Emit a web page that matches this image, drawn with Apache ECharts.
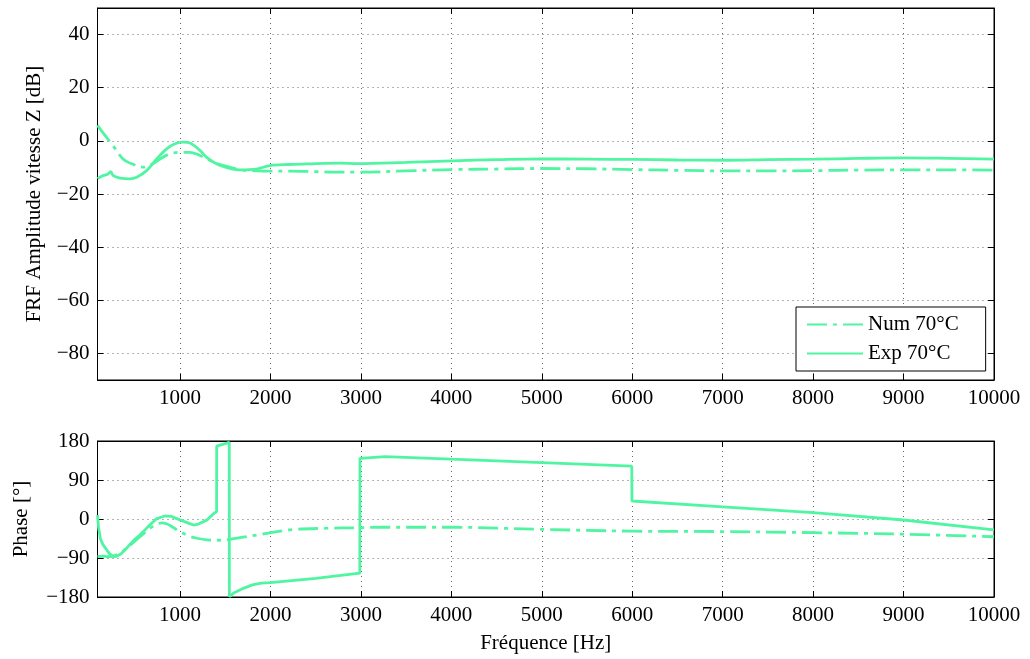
<!DOCTYPE html>
<html>
<head>
<meta charset="utf-8">
<script src="https://cdn.jsdelivr.net/npm/echarts@6/dist/echarts.min.js"></script>
<style>
html,body{margin:0;padding:0;background:#fff;}
#chart{width:1030px;height:659px;}
</style>
</head>
<body>
<div id="chart"></div>
<script>
// ---- Data ----
var seriesNames = ['Num 70°C', 'Exp 70°C'];

// Amplitude (dB) - numerical
var freqAmpNum = [88, 150, 260, 370, 480, 595, 700, 780, 880, 1000, 1110, 1200, 1295, 1420, 1552, 1663, 1847, 2000, 2215, 2500, 2767, 2970, 3500, 4013, 4500, 5000, 5500, 6000, 6500, 7040, 7500, 8030, 8500, 9000, 9500, 10000];
var ampNum     = [5.8, 3.0, -1.8, -6.8, -8.8, -9.9, -8.6, -6.8, -5.0, -4.3, -4.3, -5.2, -6.8, -8.6, -9.9, -10.9, -11.3, -11.4, -11.4, -11.6, -11.8, -11.8, -11.3, -10.8, -10.6, -10.4, -10.5, -10.8, -11.1, -11.3, -11.3, -11.2, -11.0, -10.9, -10.9, -11.0];

// Amplitude (dB) - experimental
var freqAmpExp = [88, 150, 200, 234, 263, 337, 447, 521, 631, 742, 853, 945, 1037, 1110, 1221, 1295, 1387, 1479, 1570, 1663, 1847, 1994, 2200, 2400, 2767, 2970, 3500, 4013, 4500, 5000, 5500, 6000, 6500, 7040, 7500, 8030, 8500, 9000, 9500, 10000];
var ampExp     = [-14.2, -13.1, -12.6, -11.6, -13.1, -14.0, -14.3, -13.7, -11.2, -6.8, -3.0, -1.1, -0.5, -0.8, -3.6, -6.2, -8.3, -9.6, -10.5, -10.9, -10.6, -9.3, -8.9, -8.7, -8.4, -8.6, -8.1, -7.5, -7.1, -6.8, -6.9, -7.0, -7.2, -7.3, -7.1, -6.9, -6.6, -6.4, -6.6, -6.9];

// Phase (deg) - numerical
var freqPhaseNum = [88, 150, 200, 264, 350, 400, 485, 600, 700, 800, 850, 900, 950, 1000, 1110, 1200, 1300, 1450, 1552, 1700, 1847, 1960, 2215, 2580, 3000, 3240, 4000, 5000, 6000, 7000, 8000, 9000, 10000];
var phaseNum     = [-87, -86, -87, -85, -77, -69, -54, -33, -17, -9, -11, -16, -23, -29, -40, -45, -48, -49, -47, -42, -37, -33, -25, -21.5, -20, -19, -19, -24, -28, -29, -31.5, -35, -41];

// Phase (deg) - experimental
var freqPhaseExp = [88, 100, 120, 145, 172, 220, 264, 300, 350, 420, 485, 550, 600, 650, 743, 834, 900, 1000, 1100, 1150, 1200, 1300, 1380, 1405, 1406, 1545, 1546, 1600, 1700, 1800, 1900, 2000, 2500, 2988, 2990, 3270, 4000, 5000, 5995, 5997, 7000, 8000, 9000, 10000];
var phaseExp     = [9, -20, -45, -58, -66, -80, -87, -86, -80, -65, -50, -38, -28, -17, 1, 7, 6, -2, -10, -14, -12, -2, 14, 17, 168, 177, -179, -170, -160, -152, -148, -147, -137, -125, 140, 144, 138, 130, 122, 41.5, 28, 14.6, -2.3, -25];

// Axis ranges
var xMin = 88, xMax = 10000;
var ampMin = -90, ampMax = 50;
var phaseMin = -180, phaseMax = 180, phaseStep = 90;

function pairs(xs, ys){ var o=[]; for(var i=0;i<xs.length;i++) o.push([xs[i], ys[i]]); return o; }

var FONT = 'Liberation Serif';
var FS = 21;
var lineColor = '#50f5a2';
var gridLine = {show:true, lineStyle:{color:'#666', type:[1,4], width:1}};
function numFmt(v){ return String(Math.round(v)).replace('-', '\u2212'); }

function xAxisMain(gi, showName){
  return {
    type:'value', gridIndex:gi, min:xMin, max:xMax, splitNumber:10,
    axisLine:{show:true, onZero:false, lineStyle:{color:'#000', width:1}},
    axisTick:{show:true, inside:true, length:6, lineStyle:{color:'#000'}},
    axisLabel:{show:true, color:'#000', fontFamily:FONT, fontSize:FS, margin:8, showMinLabel:false, formatter:numFmt},
    splitLine:gridLine,
    name: showName ? 'Fréquence [Hz]' : '',
    nameLocation:'middle', nameGap:36,
    nameTextStyle:{color:'#000', fontFamily:FONT, fontSize:FS}
  };
}
function xAxisTop(gi){
  return {
    type:'value', gridIndex:gi, position:'top', min:xMin, max:xMax, splitNumber:10,
    axisLine:{show:true, onZero:false, lineStyle:{color:'#000', width:1}},
    axisTick:{show:true, inside:true, length:6, lineStyle:{color:'#000'}},
    axisLabel:{show:false}, splitLine:{show:false}
  };
}

var option = {
  animation:false,
  backgroundColor:'#fff',
  textStyle:{fontFamily:FONT},
  grid:[
    {left:97.5, right:36, top:8, height:372, show:true, borderColor:'#000', borderWidth:1, backgroundColor:'transparent'},
    {left:97.5, right:36, top:441, height:156, show:true, borderColor:'#000', borderWidth:1, backgroundColor:'transparent'}
  ],
  legend:{
    data:seriesNames,
    orient:'vertical',
    left:796, top:307,
    padding:[7, 27, 7, 10],
    itemWidth:56, itemHeight:14, itemGap:8, itemTextGap:7,
    borderColor:'#000', borderWidth:1, backgroundColor:'#fff', borderRadius:0,
    itemStyle:{color:'rgba(0,0,0,0)', borderColor:'rgba(0,0,0,0)', borderWidth:0},
    textStyle:{color:'#000', fontFamily:FONT, fontSize:FS}
  },
  xAxis:[ xAxisMain(0,false), xAxisMain(1,true), xAxisTop(0), xAxisTop(1) ],
  yAxis:[
    {type:'value', gridIndex:0, min:ampMin, max:ampMax, splitNumber:7,
     axisLine:{show:true, onZero:false, lineStyle:{color:'#000'}},
     axisTick:{show:true, inside:true, length:6, lineStyle:{color:'#000'}},
     axisLabel:{color:'#000', fontFamily:FONT, fontSize:FS, margin:8, showMinLabel:false, showMaxLabel:false, formatter:numFmt},
     splitLine:gridLine,
     name:'FRF Amplitude vitesse Z [dB]', nameLocation:'middle', nameGap:53, nameRotate:90,
     nameTextStyle:{color:'#000', fontFamily:FONT, fontSize:FS}},
    {type:'value', gridIndex:1, min:phaseMin, max:phaseMax, interval:phaseStep,
     axisLine:{show:true, onZero:false, lineStyle:{color:'#000'}},
     axisTick:{show:true, inside:true, length:6, lineStyle:{color:'#000'}},
     axisLabel:{color:'#000', fontFamily:FONT, fontSize:FS, margin:8, formatter:numFmt},
     splitLine:gridLine,
     name:'Phase [°]', nameLocation:'middle', nameGap:66, nameRotate:90,
     nameTextStyle:{color:'#000', fontFamily:FONT, fontSize:FS}},
    {type:'value', gridIndex:0, position:'right', min:ampMin, max:ampMax, splitNumber:7,
     axisLine:{show:true, onZero:false, lineStyle:{color:'#000'}},
     axisTick:{show:true, inside:true, length:6, lineStyle:{color:'#000'}},
     axisLabel:{show:false}, splitLine:{show:false}},
    {type:'value', gridIndex:1, position:'right', min:phaseMin, max:phaseMax, interval:phaseStep,
     axisLine:{show:true, onZero:false, lineStyle:{color:'#000'}},
     axisTick:{show:true, inside:true, length:6, lineStyle:{color:'#000'}},
     axisLabel:{show:false}, splitLine:{show:false}}
  ],
  series:[
    {name:seriesNames[0], type:'line', xAxisIndex:0, yAxisIndex:0, data:pairs(freqAmpNum, ampNum),
     showSymbol:false, symbol:'none', smooth:0.35, color:lineColor,
     lineStyle:{color:lineColor, width:2.8, type:[20,6,4,6]}},
    {name:seriesNames[1], type:'line', xAxisIndex:0, yAxisIndex:0, data:pairs(freqAmpExp, ampExp),
     showSymbol:false, symbol:'none', smooth:0.35, color:lineColor,
     lineStyle:{color:lineColor, width:2.8, type:'solid'}},
    {name:seriesNames[0], type:'line', xAxisIndex:1, yAxisIndex:1, data:pairs(freqPhaseNum, phaseNum),
     showSymbol:false, symbol:'none', smooth:0.35, color:lineColor,
     lineStyle:{color:lineColor, width:2.8, type:[20,6,4,6]}},
    {name:seriesNames[1], type:'line', xAxisIndex:1, yAxisIndex:1, data:pairs(freqPhaseExp, phaseExp),
     showSymbol:false, symbol:'none', smooth:false, color:lineColor,
     lineStyle:{color:lineColor, width:2.8, type:'solid'}}
  ]
};
var chart = echarts.init(document.getElementById('chart'), null, {renderer:'canvas'});
chart.setOption(option);
</script>
</body>
</html>
